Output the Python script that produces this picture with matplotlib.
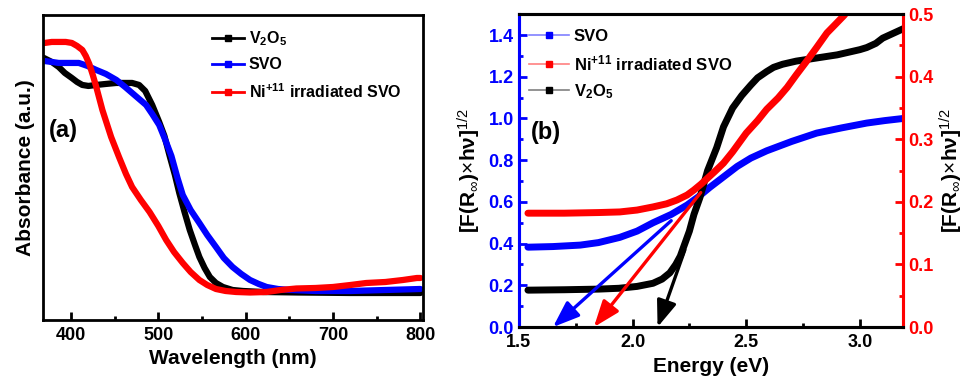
import numpy as np
import matplotlib
matplotlib.use("Agg")
import matplotlib.pyplot as plt
from matplotlib.lines import Line2D

plt.rcParams['font.family'] = ['Liberation Sans', 'DejaVu Sans']
plt.rcParams['mathtext.fontset'] = 'custom'
plt.rcParams['mathtext.rm'] = 'Liberation Sans'
plt.rcParams['mathtext.it'] = 'Liberation Sans:italic'
plt.rcParams['mathtext.bf'] = 'Liberation Sans:bold'

# ---- Panel (a) data: absorbance (a.u.) vs wavelength (nm) ----
wl_v2o5 = [369, 378, 386, 393, 401, 407, 413, 420, 429, 440, 452, 462, 470, 478, 485, 493, 501, 507, 513, 519, 524, 530, 536, 542, 547, 553, 559, 566, 574, 585, 597, 620, 660, 720, 800]
ab_v2o5 = [2.62, 2.58, 2.53, 2.47, 2.42, 2.38, 2.35, 2.34, 2.35, 2.36, 2.37, 2.37, 2.37, 2.35, 2.29, 2.15, 1.98, 1.84, 1.64, 1.45, 1.27, 1.08, 0.90, 0.75, 0.63, 0.52, 0.43, 0.37, 0.33, 0.30, 0.29, 0.28, 0.275, 0.27, 0.27]

wl_svo = [369, 378, 386, 398, 409, 419, 429, 440, 452, 462, 470, 478, 486, 493, 501, 508, 515, 522, 528, 537, 547, 556, 566, 575, 585, 595, 605, 615, 624, 637, 651, 680, 720, 760, 800]
ab_svo = [2.59, 2.58, 2.57, 2.57, 2.57, 2.54, 2.50, 2.46, 2.40, 2.33, 2.27, 2.21, 2.15, 2.06, 1.95, 1.80, 1.64, 1.42, 1.25, 1.10, 0.97, 0.85, 0.73, 0.62, 0.53, 0.46, 0.40, 0.36, 0.33, 0.31, 0.30, 0.29, 0.29, 0.30, 0.31]

wl_ni = [370, 378, 386, 394, 401, 407, 413, 417, 421, 425, 429, 436, 446, 455, 463, 470, 480, 490, 500, 509, 518, 528, 537, 547, 556, 566, 577, 589, 605, 624, 640, 658, 680, 700, 720, 738, 760, 780, 796, 800]
ab_ni = [2.77, 2.78, 2.78, 2.78, 2.77, 2.74, 2.70, 2.64, 2.56, 2.45, 2.33, 2.10, 1.83, 1.63, 1.46, 1.33, 1.20, 1.08, 0.94, 0.80, 0.68, 0.57, 0.48, 0.40, 0.35, 0.31, 0.29, 0.28, 0.275, 0.28, 0.30, 0.315, 0.32, 0.33, 0.35, 0.37, 0.38, 0.40, 0.42, 0.42]

# ---- Panel (b) data: Tauc plot ----
e_v2o5 = [1.54, 1.70, 1.85, 1.94, 2.02, 2.09, 2.13, 2.164, 2.19, 2.21, 2.23, 2.25, 2.27, 2.296, 2.33, 2.37, 2.40, 2.44, 2.48, 2.52, 2.55, 2.59, 2.62, 2.66, 2.72, 2.81, 2.90, 2.96, 3.00, 3.03, 3.07, 3.10, 3.15, 3.19]
t_v2o5 = [0.177, 0.179, 0.182, 0.186, 0.195, 0.21, 0.23, 0.26, 0.30, 0.34, 0.40, 0.46, 0.54, 0.62, 0.75, 0.86, 0.96, 1.05, 1.11, 1.16, 1.195, 1.225, 1.245, 1.26, 1.275, 1.29, 1.305, 1.32, 1.33, 1.34, 1.36, 1.385, 1.41, 1.43]

e_svo = [1.54, 1.65, 1.77, 1.85, 1.944, 2.02, 2.09, 2.17, 2.24, 2.29, 2.34, 2.40, 2.46, 2.52, 2.59, 2.70, 2.81, 2.92, 3.03, 3.11, 3.19]
t_svo = [0.383, 0.386, 0.393, 0.405, 0.43, 0.46, 0.50, 0.54, 0.585, 0.625, 0.67, 0.72, 0.77, 0.81, 0.845, 0.89, 0.93, 0.955, 0.978, 0.99, 1.00]

e_ni = [1.54, 1.70, 1.85, 1.944, 2.02, 2.09, 2.15, 2.195, 2.24, 2.27, 2.30, 2.33, 2.36, 2.40, 2.44, 2.50, 2.55, 2.59, 2.64, 2.68, 2.72, 2.77, 2.81, 2.855, 2.89, 2.93, 3.00, 3.10, 3.19]
t_ni = [0.182, 0.182, 0.183, 0.184, 0.187, 0.192, 0.197, 0.203, 0.211, 0.219, 0.228, 0.238, 0.248, 0.262, 0.28, 0.31, 0.33, 0.348, 0.366, 0.383, 0.403, 0.427, 0.447, 0.47, 0.483, 0.498, 0.53, 0.57, 0.61]

# Tangent arrows: (start, band-gap intercept) in left-axis units
arrow_svo = ((2.17, 0.51), (1.65, 0.0))
arrow_ni = ((2.30, 0.645), (1.83, 0.0))
arrow_v2o5 = ((2.23, 0.37), (2.11, 0.0))

BLUE = '#0000ff'
RED = '#ff0000'

fig = plt.figure(figsize=(9.68, 3.83), dpi=100)

# ---------- Panel (a) ----------
ax1 = fig.add_axes([0.0444, 0.1645, 0.3926, 0.7965])
ax1.plot(wl_v2o5, ab_v2o5, color='black', lw=4.5, solid_capstyle='round', solid_joinstyle='round')
ax1.plot(wl_svo, ab_svo, color=BLUE, lw=4.5, solid_capstyle='round', solid_joinstyle='round')
ax1.plot(wl_ni, ab_ni, color=RED, lw=4.5, solid_capstyle='round', solid_joinstyle='round')
ax1.set_xlim(368, 803)
ax1.set_ylim(0, 3.05)
ax1.set_yticks([])
ax1.set_xticks([400, 500, 600, 700, 800])
ax1.set_xticks([450, 550, 650, 750], minor=True)
ax1.tick_params(axis='x', which='both', direction='in', width=2)
ax1.tick_params(axis='x', which='major', length=6, labelsize=13, pad=5)
ax1.tick_params(axis='x', which='minor', length=3)
for lab in ax1.get_xticklabels():
    lab.set_fontweight('bold')
for s in ax1.spines.values():
    s.set_linewidth(2)
ax1.set_xlabel('Wavelength (nm)', fontsize=15, fontweight='bold', labelpad=4)
ax1.set_ylabel('Absorbance (a.u.)', fontsize=15, fontweight='bold', labelpad=6)
ax1.text(0.015, 0.6, '(a)', transform=ax1.transAxes, fontsize=17, fontweight='bold')
hA = [Line2D([], [], color='black', lw=2, marker='s', ms=5),
      Line2D([], [], color=BLUE, lw=2, marker='s', ms=5),
      Line2D([], [], color=RED, lw=2, marker='s', ms=5)]
ax1.legend(hA, [r'V$_\mathbf{2}$O$_\mathbf{5}$', 'SVO', r'Ni$^{\mathbf{+11}}$ irradiated SVO'],
           loc='upper left', bbox_to_anchor=(0.42, 0.985), frameon=False,
           prop={'weight': 'bold', 'size': 11.5}, handlelength=2.0, handletextpad=0.3,
           labelspacing=0.6, borderaxespad=0.2)

# ---------- Panel (b) ----------
ax2 = fig.add_axes([0.536, 0.146, 0.397, 0.817])
ax3 = ax2.twinx()
ax2.plot(e_svo, t_svo, color=BLUE, lw=5, solid_capstyle='round', solid_joinstyle='round', zorder=3)
ax2.plot(e_v2o5, t_v2o5, color='black', lw=5, solid_capstyle='round', solid_joinstyle='round', zorder=3)
ax3.plot(e_ni, t_ni, color=RED, lw=5, solid_capstyle='round', solid_joinstyle='round')
ax2.set_xlim(1.5, 3.19)
ax2.set_ylim(0, 1.5)
ax3.set_ylim(0, 0.5)
ax2.set_xticks([1.5, 2.0, 2.5, 3.0])
ax2.set_xticks([1.75, 2.25, 2.75], minor=True)
ax2.set_yticks([0.0, 0.2, 0.4, 0.6, 0.8, 1.0, 1.2, 1.4])
ax2.set_yticks(np.arange(0.1, 1.5, 0.2), minor=True)
ax3.set_yticks([0.0, 0.1, 0.2, 0.3, 0.4, 0.5])
ax3.set_yticks(np.arange(0.05, 0.5, 0.1), minor=True)
ax2.tick_params(axis='x', which='both', direction='in', width=2)
ax2.tick_params(axis='x', which='major', length=6, labelsize=13, pad=5)
ax2.tick_params(axis='x', which='minor', length=3)
ax2.tick_params(axis='y', which='both', direction='in', width=2, colors=BLUE)
ax2.tick_params(axis='y', which='major', length=6, labelsize=13)
ax2.tick_params(axis='y', which='minor', length=3)
ax3.tick_params(axis='y', which='both', direction='in', width=2, colors=RED)
ax3.tick_params(axis='y', which='major', length=6, labelsize=13)
ax3.tick_params(axis='y', which='minor', length=3)
ax2.yaxis.set_major_formatter(matplotlib.ticker.FormatStrFormatter('%.1f'))
ax3.yaxis.set_major_formatter(matplotlib.ticker.FormatStrFormatter('%.1f'))
for lab in ax2.get_xticklabels() + ax2.get_yticklabels() + ax3.get_yticklabels():
    lab.set_fontweight('bold')
for ax in (ax2, ax3):
    for s in ax.spines.values():
        s.set_linewidth(2.2)
    ax.spines['left'].set_color(BLUE)
    ax.spines['right'].set_color(RED)

for (start, end), col in ((arrow_svo, BLUE), (arrow_ni, RED), (arrow_v2o5, 'black')):
    ax2.annotate('', xy=end, xytext=start,
                 arrowprops=dict(arrowstyle='-|>,head_length=0.8,head_width=0.3',
                                 mutation_scale=20, color=col, lw=2.4,
                                 shrinkA=0, shrinkB=0), zorder=4)

ax2.set_xlabel('Energy (eV)', fontsize=15, fontweight='bold', labelpad=4)
ylab = r'[F(R$_{\infty}$)$\times$hν]$^{1/2}$'
ax2.set_ylabel(ylab, fontsize=15, fontweight='bold', labelpad=4)
ax3.set_ylabel(ylab, fontsize=15, fontweight='bold', labelpad=3)
ax2.text(0.03, 0.6, '(b)', transform=ax2.transAxes, fontsize=17, fontweight='bold')

hB = [Line2D([], [], color='#8080ff', lw=1.2, marker='s', ms=5, mfc=BLUE, mec=BLUE),
      Line2D([], [], color='#ff8080', lw=1.2, marker='s', ms=5, mfc=RED, mec=RED),
      Line2D([], [], color='#808080', lw=1.2, marker='s', ms=5, mfc='black', mec='black')]
ax2.legend(hB, ['SVO', r'Ni$^{\mathbf{+11}}$ irradiated SVO', r'V$_\mathbf{2}$O$_\mathbf{5}$'],
           loc='upper left', bbox_to_anchor=(0.0, 0.985), frameon=False,
           prop={'weight': 'bold', 'size': 12}, handlelength=2.4, handletextpad=0.3,
           labelspacing=0.55, borderaxespad=0.2)

fig.savefig('out.png', dpi=100)
